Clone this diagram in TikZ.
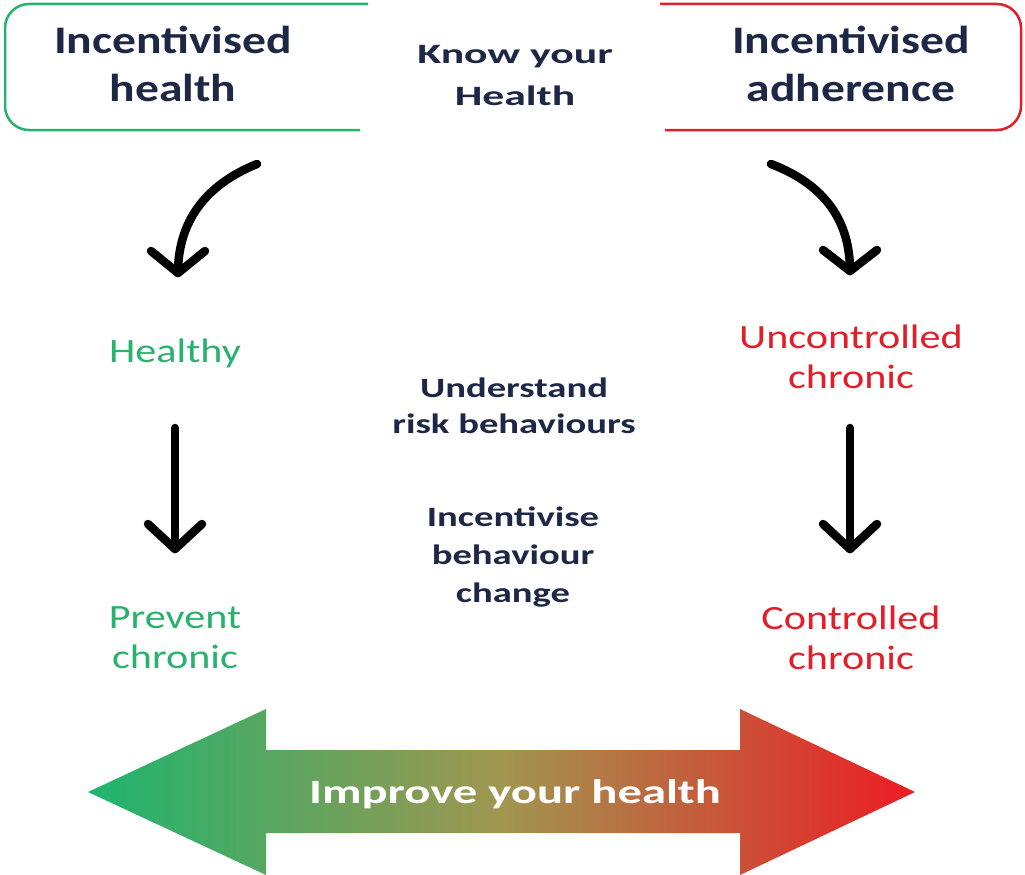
\documentclass[tikz,border=0pt]{standalone}
\usepackage{fontspec}
\setmainfont{Carlito}
\newfontfamily\fhead[FakeStretch=1.22]{Carlito}
\newfontfamily\fknow[FakeStretch=1.56]{Carlito}
\newfontfamily\frisk[FakeStretch=1.38]{Carlito}
\newfontfamily\fcol[FakeStretch=1.24]{Carlito}
\newfontfamily\fimp[FakeStretch=1.43]{Carlito}
\begin{document}
\begin{tikzpicture}[x=1pt,y=-1pt,
  head/.style={text=navyc,font=\fontsize{39}{48}\fhead\bfseries,align=center},
  know/.style={text=navyc,font=\fontsize{28}{42}\fknow\bfseries,align=center},
  risk/.style={text=navyc,font=\fontsize{28}{36}\frisk\bfseries,align=center},
  gtxt/.style={text=greenc,font=\fontsize{34}{40}\fcol,align=center},
  rtxt/.style={text=redc,font=\fontsize{34}{40}\fcol,align=center},
  arr/.style={line width=8.5pt,line cap=round,line join=round,black},
  box/.style={line width=2.5pt,rounded corners=24pt}]
\definecolor{navyc}{RGB}{30,40,70}
\definecolor{greenc}{RGB}{40,178,110}
\definecolor{redc}{RGB}{228,30,40}
\definecolor{gstart}{RGB}{30,180,110}
\definecolor{gmid}{RGB}{160,150,80}
\definecolor{gend}{RGB}{236,28,36}
\useasboundingbox (0,0) rectangle (1025,875);
% boxes
\draw[box,greenc] (368,4) -- (5,4) -- (5,130) -- (360,130);
\draw[box,redc] (660,4) -- (1021,4) -- (1021,130) -- (665,130);
\node[head] (ih) at (173,64) {Incentivised\\health};
\node[head] (ia) at (851,64) {Incentivised\\adherence};
\node[know] (kh) at (515,76) {Know your\\Health};
% middle texts
\node[gtxt] (hl) at (175,353) {Healthy};
\node[rtxt] (uc) at (851,357) {Uncontrolled\\chronic};
\node[risk] (ur) at (514,406) {Understand\\risk behaviours};
\node[risk, font=\fontsize{28}{38}\frisk\bfseries] (ib) at (513,557) {Incentivise\\behaviour\\change};
\node[gtxt] (pc) at (175,638) {Prevent\\chronic};
\node[rtxt] (cc) at (851,638) {Controlled\\chronic};
% curved arrows
\coordinate (l1) at (257,164); \coordinate (l2) at (178,273);
\draw[arr] (l1) .. controls (205,185) and (178,222) .. (l2);
\draw[arr] (151,251) -- (l2) -- (205,251);
\coordinate (r1) at (771,164); \coordinate (r2) at (850,271);
\draw[arr] (r1) .. controls (826,185) and (850,222) .. (r2);
\draw[arr] (823,250) -- (r2) -- (877,250);
% straight arrows
\coordinate (s1) at (175,428); \coordinate (s2) at (175,549);
\draw[arr] (s1) -- (s2);
\draw[arr] (148,524) -- (s2) -- (202,524);
\coordinate (t1) at (850,428); \coordinate (t2) at (850,549);
\draw[arr] (t1) -- (t2);
\draw[arr] (823,524) -- (t2) -- (877,524);
% big arrow
\shade[left color=gstart,right color=gend,middle color=gmid]
  (88,792) -- (266,709) -- (266,750) -- (740,750) -- (740,709) -- (915,792)
  -- (740,875) -- (740,833) -- (266,833) -- (266,875) -- cycle;
\node[text=white,font=\fontsize{34}{40}\fimp\bfseries] (iy) at (515,794) {Improve your health};
\end{tikzpicture}
\end{document}
